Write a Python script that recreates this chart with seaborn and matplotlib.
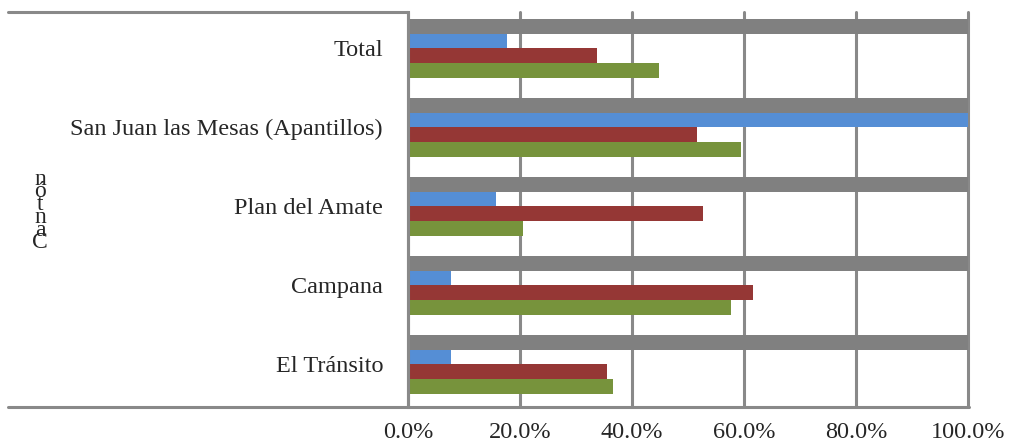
import matplotlib
matplotlib.use("Agg")
import matplotlib.pyplot as plt
import numpy as np
import pandas as pd
import seaborn as sns
from matplotlib.lines import Line2D
from matplotlib.ticker import PercentFormatter

# Datos
cantones = ["Total", "San Juan las Mesas (Apantillos)", "Plan del Amate", "Campana", "El Tránsito"]
series = ["Base", "Serie 1", "Serie 2", "Serie 3"]
base = [1.0, 1.0, 1.0, 1.0, 1.0]
serie1 = [0.176, 1.0, 0.158, 0.076, 0.076]
serie2 = [0.337, 0.516, 0.526, 0.616, 0.355]
serie3 = [0.448, 0.595, 0.205, 0.577, 0.366]
colores = ["#808080", "#558ED5", "#953735", "#77933C"]
gris = "#898989"

df = pd.DataFrame({
    "canton": cantones * 4,
    "serie": np.repeat(series, len(cantones)),
    "valor": base + serie1 + serie2 + serie3,
})

sns.set_style("white")
plt.rcParams["font.family"] = ["Liberation Serif", "DejaVu Serif"]

W, H = 1011, 446
fig = plt.figure(figsize=(W / 100, H / 100), dpi=100)
ax = fig.add_axes([408 / W, 1 - 407 / H, (968 - 408) / W, (407 - 12) / H])

sns.barplot(data=df, x="valor", y="canton", hue="serie", hue_order=series,
            order=cantones, palette=colores, orient="h", width=0.74,
            saturation=1, legend=False, linewidth=0, ax=ax)

ax.set_xlim(0, 1.0)
ax.set_ylim(4.5 + 0.04, -0.5 + 0.04)
ax.xaxis.set_major_formatter(PercentFormatter(1.0, decimals=1))
ax.set_xticks(np.arange(0, 1.01, 0.2))
ax.set_axisbelow(True)
ax.grid(axis="x", color=gris, linewidth=2.2)
for gl in ax.get_xgridlines():
    gl.set_clip_on(False)
ax.grid(axis="y", visible=False)

for s in ["top", "right", "bottom"]:
    ax.spines[s].set_visible(False)
ax.spines["left"].set_color(gris)
ax.spines["left"].set_linewidth(2.2)

ax.tick_params(axis="x", length=0, pad=11, labelsize=17.5)
ax.tick_params(axis="y", length=0, pad=18, labelsize=17.5)
ax.set_xlabel("")
ax.set_ylabel("")

# Líneas del marco que salen del área del gráfico
fig.add_artist(Line2D([8 / W, 408 / W], [1 - 12 / H, 1 - 12 / H], color=gris, linewidth=2.2))
fig.add_artist(Line2D([8 / W, 969 / W], [1 - 407 / H, 1 - 407 / H], color=gris, linewidth=2.2))

# Título del eje vertical con letras apiladas
fig.text(40 / W, 1 - 211 / H, "\n".join(reversed("Cantón")), ha="center", va="center",
         fontsize=17, linespacing=0.48)

fig.savefig("out.png", dpi=100)
